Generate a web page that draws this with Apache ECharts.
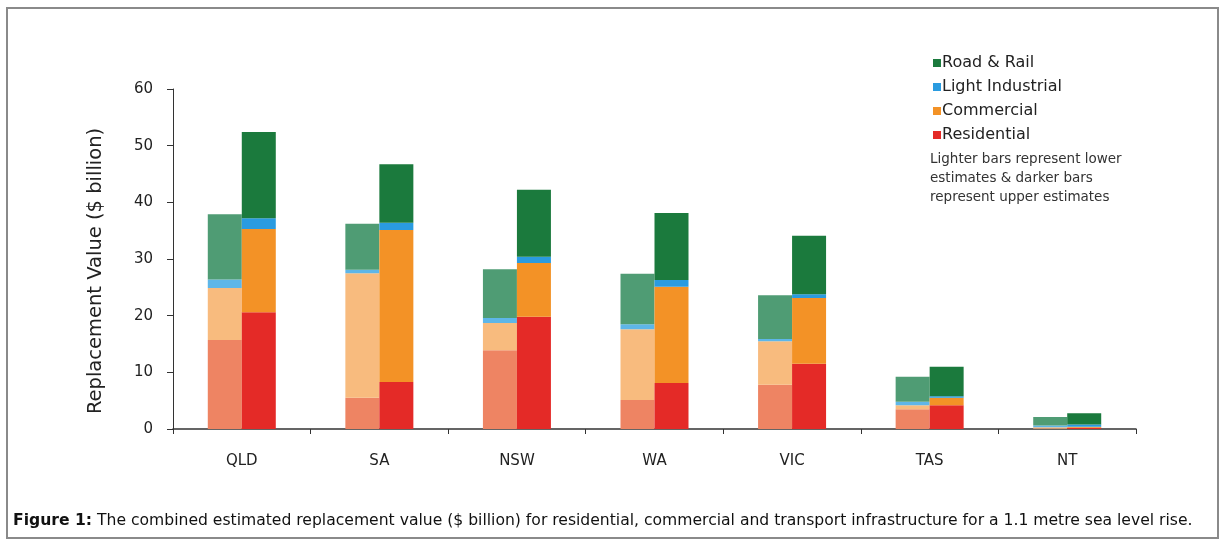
<!DOCTYPE html>
<html>
<head>
<meta charset="utf-8">
<script src="https://cdn.jsdelivr.net/npm/echarts@6/dist/echarts.min.js"></script>
<style>
  html, body { margin: 0; padding: 0; background: #fff; }
  #main { width: 1227px; height: 541px; }
</style>
</head>
<body>
<div id="main"></div>
<script>
// states along the x axis
var states = ['QLD', 'SA', 'NSW', 'WA', 'VIC', 'TAS', 'NT']

// lower estimates ($ billion)
var resLow  = [15.7, 5.5, 13.9, 5.1, 7.8, 3.5, 0.1]
var comLow  = [9.2, 22.0, 4.8, 12.5, 7.7, 0.7, 0.2]
var indLow  = [1.5, 0.6, 0.9, 0.9, 0.4, 0.6, 0.3]
var rrLow   = [11.5, 8.1, 8.6, 8.9, 7.7, 4.4, 1.5]

// upper estimates ($ billion)
var resHigh = [20.6, 8.3, 19.8, 8.1, 11.5, 4.2, 0.2]
var comHigh = [14.7, 26.8, 9.5, 17.0, 11.6, 1.3, 0.2]
var indHigh = [1.9, 1.3, 1.1, 1.2, 0.7, 0.3, 0.4]
var rrHigh  = [15.2, 10.3, 11.8, 11.8, 10.3, 5.2, 2.0]

var yTicks = [0, 10, 20, 30, 40, 50, 60]

var font = 'DejaVu Sans, Liberation Sans, sans-serif'

function bar(name, stack, data, color) {
  return {
    name: name,
    type: 'bar',
    stack: stack,
    data: data,
    barWidth: 34,
    barGap: '0%',
    itemStyle: { color: color },
    emphasis: { disabled: true }
  }
}

var myChart = echarts.init(document.getElementById('main'))

var option = {
  backgroundColor: '#fff',
  animation: false,
  textStyle: { fontFamily: font },
  grid: { left: 173, right: 91, top: 89, bottom: 112 },
  legend: {
    orient: 'vertical',
    left: 928,
    top: 50,
    itemWidth: 8,
    itemHeight: 8,
    itemGap: 8,
    icon: 'rect',
    textStyle: { fontSize: 16, color: '#222', fontFamily: font, padding: [0, 0, 0, -4] },
    data: ['Road & Rail', 'Light Industrial', 'Commercial', 'Residential']
  },
  xAxis: {
    type: 'category',
    data: states,
    axisLine: { lineStyle: { color: '#333', width: 1.5 } },
    axisTick: { show: true, length: 5, lineStyle: { color: '#333' } },
    axisLabel: { margin: 25, fontSize: 15, color: '#222', fontFamily: font }
  },
  yAxis: {
    type: 'value',
    min: yTicks[0],
    max: yTicks[yTicks.length - 1],
    interval: 10,
    splitLine: { show: false },
    axisLine: { show: true, lineStyle: { color: '#333', width: 1 } },
    axisTick: { show: true, length: 6, lineStyle: { color: '#333' } },
    axisLabel: { margin: 20, fontSize: 15, color: '#222', fontFamily: font }
  },
  series: [
    bar('Residential (lower)', 'low', resLow, '#ee8463'),
    bar('Commercial (lower)', 'low', comLow, '#f8bb7e'),
    bar('Light Industrial (lower)', 'low', indLow, '#5eb6e8'),
    bar('Road & Rail (lower)', 'low', rrLow, '#4f9c74'),
    bar('Residential', 'high', resHigh, '#e42a27'),
    bar('Commercial', 'high', comHigh, '#f39226'),
    bar('Light Industrial', 'high', indHigh, '#2a9be0'),
    bar('Road & Rail', 'high', rrHigh, '#1b7a3d')
  ],
  graphic: [
    {
      type: 'rect',
      shape: { x: 7, y: 8, width: 1211, height: 530 },
      style: { fill: 'none', stroke: '#8a8a8a', lineWidth: 2 },
      silent: true
    },
    {
      // y axis title, sits a little below the axis middle as in the original
      type: 'text',
      x: 96,
      y: 271,
      rotation: Math.PI / 2,
      style: {
        text: 'Replacement Value ($ billion)',
        fontSize: 19.5,
        fill: '#222',
        fontFamily: font,
        align: 'center',
        verticalAlign: 'middle'
      }
    },
    {
      type: 'text',
      left: 930,
      top: 150,
      style: {
        text: 'Lighter bars represent lower\nestimates & darker bars\nrepresent upper estimates',
        fontSize: 13.5,
        lineHeight: 19,
        fill: '#333',
        fontFamily: font
      }
    },
    {
      type: 'text',
      left: 13,
      top: 513,
      style: {
        text: '{b|Figure 1:} The combined estimated replacement value ($ billion) for residential, commercial and transport infrastructure for a 1.1 metre sea level rise.',
        fontSize: 15.6,
        fill: '#111',
        fontFamily: font,
        rich: {
          b: { fontWeight: 'bold', fontSize: 15.6, fill: '#111', fontFamily: font }
        }
      }
    }
  ]
}

myChart.setOption(option)
</script>
</body>
</html>
